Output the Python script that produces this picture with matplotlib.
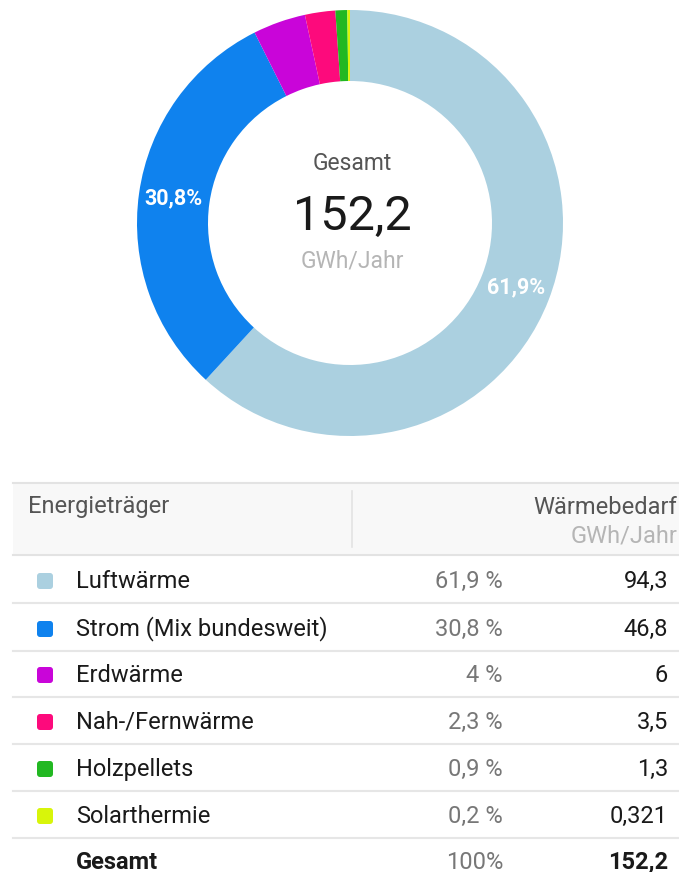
import matplotlib.pyplot as plt
from matplotlib.patches import FancyBboxPatch, Rectangle

# Wärmebedarf nach Energieträger
carriers = ["Luftwärme", "Strom (Mix bundesweit)", "Erdwärme",
            "Nah-/Fernwärme", "Holzpellets", "Solarthermie"]
shares = [61.9, 30.8, 4, 2.3, 0.9, 0.2]
demand = [94.3, 46.8, 6, 3.5, 1.3, 0.321]
demand_labels = ["94,3", "46,8", "6", "3,5", "1,3", "0,321"]
total_label = "152,2"
colors = ["#abd0e0", "#0f82ee", "#c905d9", "#fd0a7c", "#22b822", "#d8f50a"]

plt.rcParams['font.family'] = ['Roboto', 'DejaVu Sans']

W, H = 679, 872
fig = plt.figure(figsize=(W / 100, H / 100), dpi=100)
ax = fig.add_axes([0, 0, 1, 1])


def Y(py):
    # pixel row (from top) -> data y
    return H - py


def de(v):
    return f"{v:g}".replace(".", ",")


# donut
cx, cy, r_out = 350, Y(223), 213
wedges, _, pcts = ax.pie(shares, colors=colors, center=(cx, cy), radius=r_out,
                         startangle=90, counterclock=False,
                         wedgeprops=dict(width=71, linewidth=0),
                         autopct=lambda p: "", pctdistance=0.835, frame=True)
for i, t in enumerate(pcts):
    if shares[i] > 10:
        t.set_text(de(shares[i]) + "%")
        t.set_color("white")
        t.set_fontsize(15.5)
        t.set_fontweight("bold")
ax.set_xlim(0, W)
ax.set_ylim(0, H)
ax.set_aspect('equal')
ax.axis('off')

ax.text(cx + 2, Y(163), "Gesamt", ha='center', va='center', fontsize=16.5, color="#555555")
ax.text(cx + 2, Y(217), total_label, ha='center', va='center', fontsize=35, color="#1a1a1a")
ax.text(cx + 2, Y(261), "GWh/Jahr", ha='center', va='center', fontsize=16.5, color="#b5b5b5")

# table header
fs = 17
x0, x1 = 13, 679
ax.add_patch(Rectangle((x0, Y(555)), x1 - x0, 72, facecolor="#f8f8f8", edgecolor="none"))
ax.plot([x0, x1], [Y(483), Y(483)], color="#e3e3e3", lw=1.5)
ax.plot([x0, x1], [Y(555), Y(555)], color="#e3e3e3", lw=1.5)
ax.plot([352, 352], [Y(491), Y(547)], color="#e3e3e3", lw=1.2)
ax.text(28, Y(507), "Energieträger", ha='left', va='center', fontsize=fs, color="#555555")
ax.text(677, Y(507), "Wärmebedarf", ha='right', va='center', fontsize=fs, color="#555555")
ax.text(677, Y(536), "GWh/Jahr", ha='right', va='center', fontsize=fs, color="#b5b5b5")

# table rows
row_y = [581, 629, 675, 722, 769, 816]
for i, name in enumerate(carriers):
    yc = Y(row_y[i])
    ax.add_patch(FancyBboxPatch((37, yc - 8), 16, 16,
                                boxstyle="round,pad=0,rounding_size=3",
                                facecolor=colors[i], edgecolor="none"))
    ax.text(76, yc, name, ha='left', va='center', fontsize=fs, color="#1a1a1a")
    ax.text(503, yc, de(shares[i]) + " %", ha='right', va='center', fontsize=fs, color="#777777")
    ax.text(668, yc, demand_labels[i], ha='right', va='center', fontsize=fs, color="#1a1a1a")
    ax.plot([x0, x1], [yc - 22, yc - 22], color="#e6e6e6", lw=1.5)

yt = Y(862)
ax.text(76, yt, "Gesamt", ha='left', va='center', fontsize=fs, color="#1a1a1a", fontweight='semibold')
ax.text(503, yt, "100%", ha='right', va='center', fontsize=fs, color="#777777")
ax.text(668, yt, total_label, ha='right', va='center', fontsize=fs, color="#1a1a1a", fontweight='semibold')

fig.savefig("out.png", dpi=100, facecolor="white")
